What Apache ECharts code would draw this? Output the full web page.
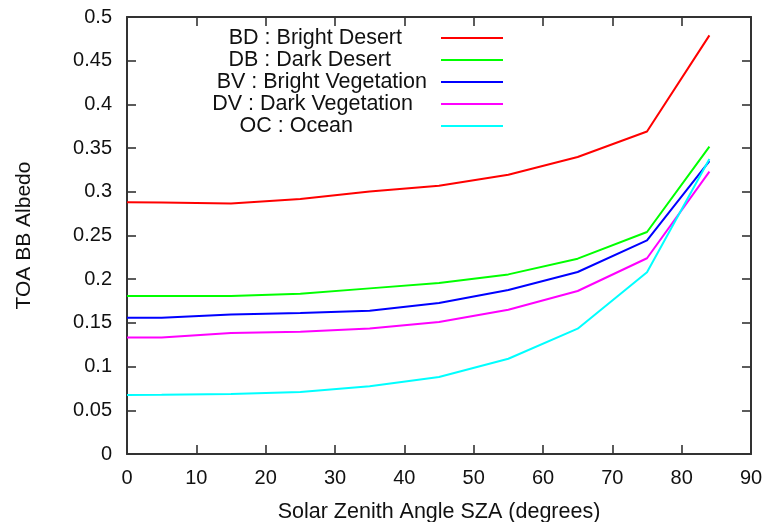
<!DOCTYPE html>
<html>
<head>
<meta charset="utf-8">
<script src="https://cdn.jsdelivr.net/npm/echarts@6/dist/echarts.min.js"></script>
<style>
  html, body { margin: 0; padding: 0; background: #fff; }
  #chart { width: 771px; height: 522px; }
</style>
</head>
<body>
<div id="chart"></div>
<script>
// Solar zenith angle samples (degrees)
const sza = [0, 5, 15, 25, 35, 45, 55, 65, 75, 84];

// TOA broadband albedo per surface type
const brightDesert = [0.288, 0.2878, 0.2865, 0.2918, 0.3003, 0.3068, 0.3195, 0.3398, 0.369, 0.479];
const darkDesert = [0.1808, 0.1808, 0.1808, 0.1834, 0.1895, 0.1956, 0.2055, 0.2235, 0.254, 0.3516];
const brightVegetation = [0.156, 0.156, 0.1597, 0.1613, 0.164, 0.1728, 0.1876, 0.2082, 0.2444, 0.335];
const darkVegetation = [0.1334, 0.1334, 0.1384, 0.140, 0.1437, 0.151, 0.165, 0.1865, 0.224, 0.323];
const ocean = [0.0675, 0.0677, 0.0686, 0.071, 0.0774, 0.088, 0.109, 0.1434, 0.208, 0.3375];

const seriesNames = [
  'BD : Bright Desert',
  'DB : Dark Desert',
  'BV : Bright Vegetation',
  'DV : Dark Vegetation',
  'OC : Ocean'
];
const seriesValues = [brightDesert, darkDesert, brightVegetation, darkVegetation, ocean];
const seriesColors = ['#ff0000', '#00ff00', '#0000ff', '#ff00ff', '#00ffff'];
// extra space between each key label and its line sample
const keyLabelGap = [34, 45, 9, 23, 83];

const FONT = 'Liberation Sans, Arial, Helvetica, sans-serif';
const AXIS_COLOR = '#333333';

const chart = echarts.init(document.getElementById('chart'), null, { renderer: 'canvas' });

function axisCommon(extra) {
  return Object.assign({
    type: 'value',
    axisLine: { show: true, onZero: false, lineStyle: { color: AXIS_COLOR, width: 2 } },
    axisTick: { show: true, inside: true, length: 9, lineStyle: { color: AXIS_COLOR, width: 1.6 } },
    splitLine: { show: false }
  }, extra);
}

const option = {
  backgroundColor: '#ffffff',
  animation: false,
  grid: {
    left: 127, right: 20, top: 17, bottom: 68,
    containLabel: false,
    outerBoundsMode: 'none'
  },
  legend: {
    orient: 'vertical',
    align: 'right',
    right: 268,
    top: 27,
    padding: 0,
    itemGap: 0,
    itemWidth: 62,
    itemHeight: 2,
    icon: 'rect',
    selectedMode: false,
    data: seriesNames.map((name, i) => ({
      name: name,
      textStyle: { padding: [0, keyLabelGap[i], 0, 0] }
    })),
    textStyle: { fontFamily: FONT, fontSize: 21.5, lineHeight: 22, color: '#111' }
  },
  xAxis: [
    axisCommon({
      position: 'bottom',
      min: 0, max: 90, interval: 10,
      name: 'Solar Zenith Angle SZA (degrees)',
      nameLocation: 'middle',
      nameGap: 47,
      nameTextStyle: { fontFamily: FONT, fontSize: 21.5, color: '#111' },
      axisLabel: { fontFamily: FONT, fontSize: 20, color: '#111', margin: 14 }
    }),
    axisCommon({
      position: 'top',
      min: 0, max: 90, interval: 10,
      axisLabel: { show: false }
    })
  ],
  yAxis: [
    axisCommon({
      position: 'left',
      min: 0, max: 0.5, interval: 0.05,
      name: 'TOA BB Albedo',
      nameLocation: 'middle',
      nameGap: 92,
      nameTextStyle: { fontFamily: FONT, fontSize: 21, color: '#111' },
      axisLabel: { fontFamily: FONT, fontSize: 20, color: '#111', margin: 15 }
    }),
    axisCommon({
      position: 'right',
      min: 0, max: 0.5, interval: 0.05,
      axisLabel: { show: false }
    })
  ],
  series: seriesNames.map((name, i) => ({
    name: name,
    type: 'line',
    xAxisIndex: 0,
    yAxisIndex: 0,
    showSymbol: false,
    symbol: 'none',
    color: seriesColors[i],
    lineStyle: { color: seriesColors[i], width: 2 },
    data: sza.map((x, j) => [x, seriesValues[i][j]])
  }))
};

chart.setOption(option);
</script>
</body>
</html>
